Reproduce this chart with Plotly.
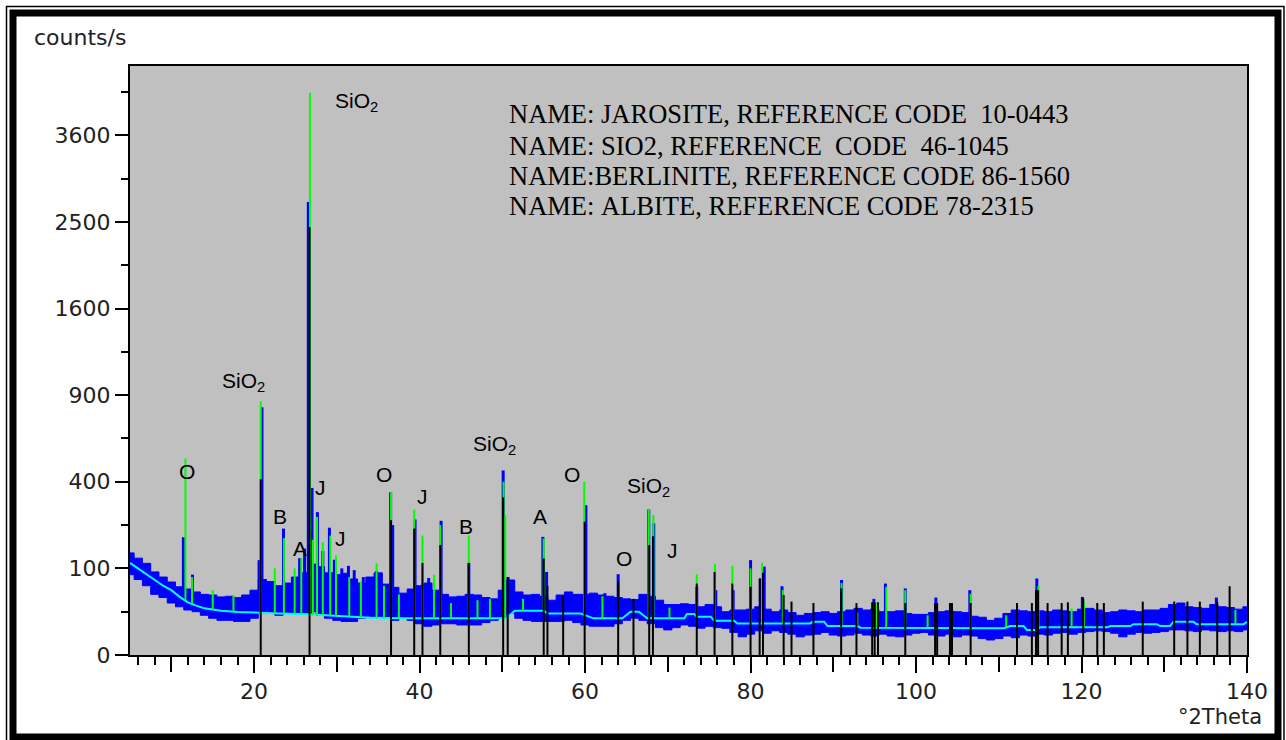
import numpy as np
import plotly.graph_objects as go

# ---------------- data (counts/s vs degrees 2Theta) ----------------
# fitted background (cyan)
bg_x = [5, 6, 7, 8, 9, 10, 11, 12, 13, 14, 15, 16, 18, 20, 23, 26.5, 30, 34, 38, 45, 50.5,
        51.5, 55, 55.5, 59.5, 61, 64.5, 65.5, 66.5, 67.5, 72, 72.3, 73.2, 73.5, 75.2, 75.6,
        78, 78.4, 87.2, 87.5, 88.9, 89.3, 92.9, 93.3, 104, 110.6, 111.4, 113, 113.4, 114.6,
        115, 123.1, 123.5, 125.9, 126.3, 129.1, 129.5, 130.7, 131.1, 133.5, 133.9, 139.6, 140]
bg_counts = [113, 100, 86.5, 75, 64, 56, 45, 37, 32.5, 29, 27.6, 26, 24.7, 23.8, 23, 22, 20.3,
             18.5, 17.9, 17.9, 17.9, 26, 26, 23, 23, 17.9, 17.9, 25, 25, 17.9, 17.9, 22.4,
             22.4, 19.5, 19.5, 15.7, 15.7, 13.3, 13.3, 14.7, 14.7, 11.2, 11.2, 9.9, 9.6, 9.6,
             11.2, 11.2, 8.3, 8.3, 10.2, 10.2, 11.2, 11.2, 12.7, 12.7, 11.2, 11.2, 14.7, 14.7,
             12.7, 12.7, 14.7]

# measured-intensity noise band (blue), low / high envelope per degree
band_x = list(range(5, 141))
band_lo = [86, 76, 64, 49, 44, 36, 31, 27, 25, 21, 18, 16, 16, 15, 15, 18, 23, 24, 21, 24,
           23, 24, 25, 21, 18, 16, 15, 15, 18, 20, 20, 18, 16, 19, 16, 13, 11, 12, 13, 13,
           12, 12, 12, 14, 16, 18, 23, 18, 16, 15, 15, 15, 15, 16, 14, 12, 11, 11, 11, 13,
           16, 18, 16, 13, 10, 8.4, 10, 12, 11, 9.6, 11, 10, 9.5, 6.8, 4.4, 5.8, 7.8, 6.3,
           7.8, 6.8, 5.8, 4.4, 5.3, 5.8, 6.8, 5.3, 4.8, 5.3, 6.3, 5.3, 4.8, 5.8, 4.8, 4.4,
           5.3, 6.3, 6.8, 5.3, 4.8, 5.8, 4.4, 5.3, 4.8, 3.6, 3.0, 3.6, 4.8, 4.0, 5.3, 4.8,
           5.8, 5.3, 6.3, 6.8, 5.8, 6.8, 7.3, 7.8, 7.3, 6.3, 4.4, 5.8, 6.8, 6.3, 6.8, 7.3,
           8.4, 8.4, 7.8, 7.3, 8.4, 7.8, 7.3, 7.8, 7.3, 8.4]
band_hi = [139, 125, 112, 92, 81, 71, 62, 58, 53, 49, 48, 45, 46, 44, 48, 56, 76, 72, 64, 69,
           81, 90, 110, 104, 90, 86, 89, 77, 69, 81, 90, 67, 61, 51, 58, 64, 69, 56, 49, 45,
           46, 49, 48, 44, 42, 56, 75, 53, 48, 49, 46, 40, 48, 53, 49, 49, 51, 48, 46, 44,
           42, 41, 49, 46, 40, 34, 34, 35, 34, 31, 34, 31, 25, 27, 27, 28, 31, 28, 25, 27,
           24, 21, 23, 24, 25, 23, 25, 27, 29, 27, 28, 25, 25, 26, 23, 22, 22, 24, 25, 26,
           25, 24, 20, 19, 16, 18, 23, 27, 26, 25, 26, 25, 27, 26, 25, 28, 29, 27, 24, 25,
           27, 26, 25, 27, 27, 29, 34, 36, 31, 30, 29, 34, 31, 30, 28, 31]

# measured peaks (blue sticks)
blue_x = [11.45, 12.55, 20.6, 20.95, 23.55, 25.5, 26.1, 26.55, 27.0, 27.65, 28.3, 29.1, 29.7,
          30.6, 31.4, 32.1, 33.2, 34.8, 36.5, 36.75, 39.45, 40.4, 41.1, 42.6, 45.95, 50.1,
          50.7, 54.9, 55.35, 60.1, 62.4, 64.0, 67.7, 68.3, 73.5, 75.8, 77.9, 80.0, 81.2,
          81.65, 83.8, 91.0, 94.9, 96.3, 98.7, 102.4, 106.5, 114.6, 120.1, 136.3, 139.8]
blue_top = [185, 86, 120, 818, 213, 125, 151, 2735, 372, 272, 144, 216, 121, 100, 106, 96, 81,
            94, 353, 225, 245, 69, 79, 240, 113, 454, 81, 186, 92, 299, 51, 87, 282, 231, 62,
            56, 56, 120, 78, 104, 63, 75, 42, 68, 59, 44, 56, 78, 45, 44, 27]

# peak-search markers (green sticks)
green_x = [11.7, 12.5, 15.0, 17.5, 20.8, 22.5, 23.6, 24.9, 25.7, 26.75, 27.1, 27.6, 28.3, 29.2,
           29.9, 31.5, 32.9, 34.8, 35.7, 36.55, 37.5, 39.35, 40.35, 41.75, 42.5, 43.8, 45.95,
           47.0, 48.5, 50.15, 50.35, 52.5, 55.0, 59.9, 62.1, 67.7, 68.25, 70.2, 73.5, 75.7,
           77.8, 80.0, 81.4, 83.9, 91.0, 92.9, 95.2, 96.4, 98.7, 101.4, 106.6, 110.9, 114.8,
           118.8, 120.3, 138.6]
green_top = [515, 81, 56, 48, 858, 100, 182, 100, 125, 4212, 177, 254, 169, 190, 132, 81, 72,
             112, 64, 353, 49, 282, 190, 86, 225, 36, 190, 40, 42, 400, 261, 42, 181, 400, 46,
             282, 261, 30, 87, 110, 106, 100, 113, 56, 69, 24, 36, 62, 56, 21, 50, 21, 64, 29,
             38, 27]

# reference-pattern lines (black sticks)
ref_x = [20.8, 26.7, 36.55, 39.35, 40.35, 42.5, 45.95, 50.1, 50.65, 55.0, 55.45, 57.35, 59.95,
         64.0, 65.85, 67.75, 68.2, 73.5, 75.65, 77.8, 80.0, 81.1, 81.5, 84.0, 84.95, 87.6,
         90.95, 92.8, 94.7, 95.0, 95.4, 98.7, 102.3, 102.55, 104.1, 104.35, 106.6, 112.2,
         114.0, 114.5, 114.75, 115.9, 117.6, 118.35, 120.2, 121.9, 122.7, 127.4, 131.2,
         132.8, 134.3, 136.4, 137.9]
ref_top = [412, 2440, 243, 213, 113, 161, 113, 331, 81, 124, 64, 46, 237, 72, 42, 161, 188, 68,
           92, 68, 62, 78, 90, 48, 38, 36, 59, 36, 37, 37, 37, 36, 36, 36, 36, 36, 36, 36, 36,
           56, 56, 36, 36, 37, 43, 36, 36, 38, 38, 38, 38, 38, 63]

y_tick_counts = [0, 100, 400, 900, 1600, 2500, 3600]
x_label_vals = [20, 40, 60, 80, 100, 120, 140]
x_unlabelled_major = [10, 30, 50, 70, 90, 110, 130]

phase_labels = ["SiO<sub>2</sub>", "SiO<sub>2</sub>", "O", "B", "A", "J", "J", "O", "J", "B",
                "SiO<sub>2</sub>", "A", "O", "O", "SiO<sub>2</sub>", "J"]
phase_label_x = [32.4, 18.7, 11.9, 23.1, 25.55, 27.97, 30.4, 35.7, 40.4, 45.6, 49.0, 54.5,
                 58.4, 64.7, 67.7, 70.6]
phase_label_counts = [4070, 990, 450, 256, 151, 376, 182, 433, 335, 219, 590, 256, 433, 123,
                      376, 146]

ref_cards = ["NAME: JAROSITE, REFERENCE CODE  10-0443",
             "NAME: SIO2, REFERENCE  CODE  46-1045",
             "NAME:BERLINITE, REFERENCE CODE 86-1560",
             "NAME: ALBITE, REFERENCE CODE 78-2315"]

# ---------------- figure ----------------
sq = np.sqrt
W, H = 1286, 740
L, R, T, B = 130, 1247, 66, 655
X_RANGE = [5, 140]


def px2x(px):
    return (px - L) / (R - L)


def py2y(py):
    return (B - py) / (B - T)


def sticks(xs, base, top):
    X, Y = [], []
    for x, b, t in zip(xs, base, top):
        X += [x, x, None]
        Y += [sq(b), sq(t), None]
    return X, Y


bg_at = lambda xs: np.interp(xs, bg_x, bg_counts)

fig = go.Figure()

# noise band
fig.add_trace(go.Scatter(x=band_x, y=sq(band_lo), mode="lines", line=dict(width=1, color="#0000FF", shape="hvh"),
                         hoverinfo="skip", showlegend=False))
fig.add_trace(go.Scatter(x=band_x, y=sq(band_hi), mode="lines", line=dict(width=1, color="#0000FF", shape="hvh"),
                         fill="tonexty", fillcolor="#0000FF", hoverinfo="skip", showlegend=False))
# blue peaks
bx, by = sticks(blue_x, bg_at(blue_x), blue_top)
fig.add_trace(go.Scatter(x=bx, y=by, mode="lines", line=dict(width=3, color="#0000FF"),
                         hoverinfo="skip", showlegend=False))
# background
fig.add_trace(go.Scatter(x=bg_x, y=sq(bg_counts), mode="lines", line=dict(width=2, color="#00FFFF"),
                         hoverinfo="skip", showlegend=False))
# green markers
gx, gy = sticks(green_x, bg_at(green_x), green_top)
fig.add_trace(go.Scatter(x=gx, y=gy, mode="lines", line=dict(width=2, color="#00FF00"),
                         hoverinfo="skip", showlegend=False))
# reference lines
rx, ry = sticks(ref_x, [0] * len(ref_x), ref_top)
fig.add_trace(go.Scatter(x=rx, y=ry, mode="lines", line=dict(width=2, color="#000000"),
                         hoverinfo="skip", showlegend=False))
# holder trace for the secondary (unlabelled-tick) x axis
fig.add_trace(go.Scatter(x=[None], y=[None], xaxis="x2", yaxis="y", mode="lines",
                         hoverinfo="skip", showlegend=False))

ann = []
for t, x, c in zip(phase_labels, phase_label_x, phase_label_counts):
    ann.append(dict(x=x, y=sq(c), xref="x", yref="y", text=t, showarrow=False,
                    font=dict(family="Liberation Sans, Arial", size=21, color="#000000"),
                    xanchor="center", yanchor="middle"))

card_y = [113.5, 145.5, 176, 206.5]
for t, py in zip(ref_cards, card_y):
    ann.append(dict(x=px2x(507), y=py2y(py), xref="paper", yref="paper",
                    text=t.replace(" ", "\u00a0"), showarrow=False,
                    font=dict(family="Liberation Serif, Times New Roman", size=26.5, color="#000000"),
                    xanchor="left", yanchor="middle"))

ann.append(dict(x=px2x(32), y=py2y(37), xref="paper", yref="paper", text="counts/s",
                showarrow=False, font=dict(family="DejaVu Sans", size=22, color="#222222"),
                xanchor="left", yanchor="middle"))
ann.append(dict(x=px2x(1264), y=py2y(717), xref="paper", yref="paper", text="°2Theta",
                showarrow=False, font=dict(family="DejaVu Sans", size=21, color="#222222"),
                xanchor="right", yanchor="middle"))

shapes = [
    dict(type="rect", xref="paper", yref="paper", x0=px2x(6.5), x1=px2x(1284), y0=py2y(6.5),
         y1=py2y(745), line=dict(color="#000000", width=1.5), layer="above"),
    dict(type="rect", xref="paper", yref="paper", x0=px2x(13), x1=px2x(1278), y0=py2y(13),
         y1=py2y(737), line=dict(color="#000000", width=7), layer="above"),
]

fig.update_layout(
    width=W, height=H,
    margin=dict(l=L, r=W - R, t=T, b=H - B, pad=0),
    paper_bgcolor="#FFFFFF", plot_bgcolor="#C0C0C0",
    showlegend=False,
    annotations=ann, shapes=shapes,
    xaxis=dict(range=X_RANGE, tickmode="array", tickvals=x_label_vals,
               ticktext=[str(v) for v in x_label_vals],
               ticks="outside", ticklen=16, tickwidth=2, tickcolor="#000000",
               minor=dict(tickmode="linear", tick0=0, dtick=2, ticks="outside", ticklen=8,
                          tickwidth=1.5, tickcolor="#000000", showgrid=False),
               showline=True, linecolor="#000000", linewidth=2, mirror=True,
               showgrid=False, zeroline=False,
               tickfont=dict(family="DejaVu Sans", size=22, color="#222222")),
    xaxis2=dict(range=X_RANGE, overlaying="x", anchor="y", side="bottom",
                tickmode="array", tickvals=x_unlabelled_major, showticklabels=False,
                ticks="outside", ticklen=16, tickwidth=2, tickcolor="#000000",
                showline=False, showgrid=False, zeroline=False),
    yaxis=dict(range=[0, 68], tickmode="array", tickvals=[sq(v) for v in y_tick_counts],
               ticktext=[str(v) for v in y_tick_counts],
               ticks="outside", ticklen=13, tickwidth=2, tickcolor="#000000",
               minor=dict(tickmode="linear", tick0=0, dtick=5, ticks="outside", ticklen=7,
                          tickwidth=1.5, tickcolor="#000000", showgrid=False),
               showline=True, linecolor="#000000", linewidth=2, mirror=True,
               showgrid=False, zeroline=False,
               tickfont=dict(family="DejaVu Sans", size=22, color="#222222")),
)

fig.write_html("out.html", config={"displayModeBar": False},
               post_script="document.body.style.margin='0px';document.body.style.padding='0px';"
                           "document.body.style.overflow='hidden';")
